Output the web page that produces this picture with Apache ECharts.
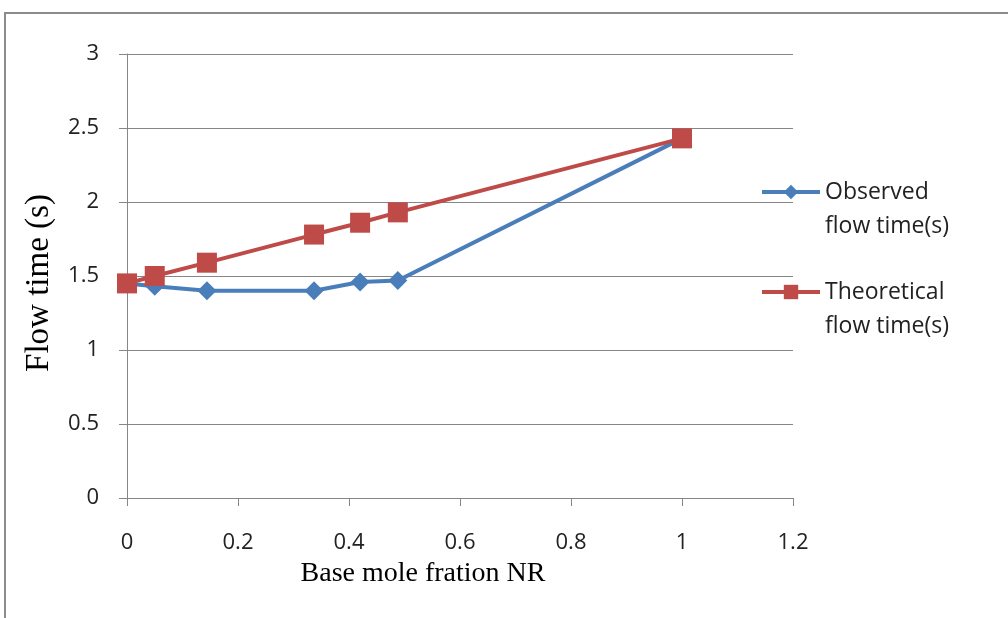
<!DOCTYPE html>
<html><head><meta charset="utf-8">
<script src="https://cdn.jsdelivr.net/npm/echarts@6/dist/echarts.min.js"></script>
<style>html,body{margin:0;padding:0;background:#fff}#c{width:1008px;height:618px}
#frame{position:absolute;left:4px;top:12px;width:1020px;height:640px;border:2px solid #8c8c8c;box-sizing:border-box;pointer-events:none}</style>
</head><body><div id="c"></div><div id="frame"></div>
<script>
const xValues = [0, 0.05, 0.144, 0.337, 0.42, 0.488, 1.0];
const observed = [1.45, 1.43, 1.40, 1.40, 1.46, 1.47, 2.43];
const theoretical = [1.45, 1.50, 1.59, 1.78, 1.86, 1.93, 2.43];
const seriesNames = ['Observed flow time(s)', 'Theoretical flow time(s)'];
const xTitle = 'Base mole fration NR';
const yTitle = 'Flow time (s)';

const chart = echarts.init(document.getElementById('c'));
const gridColor = '#868686';
chart.setOption({
  animation: false,
  grid: {left: 127, right: 215, top: 54, bottom: 120},
  legend: {
    orient: 'vertical', left: 755, top: 136, itemGap: -2,
    itemWidth: 58, itemHeight: 18,
    lineStyle: {width: 4},
    formatter: n => '\n' + n.replace(' flow', '\nflow'),
    textStyle: {fontFamily: 'Open Sans', fontSize: 23, color: '#222', lineHeight: 34}
  },
  xAxis: {
    type: 'value', min: 0, max: 1.2, interval: 0.2,
    name: xTitle, nameLocation: 'middle', nameGap: 62,
    nameTextStyle: {fontFamily: 'Liberation Serif', fontSize: 28, color: '#000', padding: [0, 74, 0, 0]},
    axisLine: {show: true, lineStyle: {color: gridColor, width: 1}},
    axisTick: {show: true, length: 8, lineStyle: {color: gridColor}},
    axisLabel: {margin: 34, fontFamily: 'Open Sans', fontSize: 22, color: '#222'},
    splitLine: {show: false}
  },
  yAxis: {
    type: 'value', min: 0, max: 3, interval: 0.5,
    name: yTitle, nameLocation: 'middle', nameGap: 71, nameRotate: 90,
    nameTextStyle: {fontFamily: 'Liberation Serif', fontSize: 33, color: '#000', padding: [0, 14, 0, 0]},
    axisLine: {show: true, lineStyle: {color: gridColor, width: 1}},
    axisTick: {show: true, length: 8, lineStyle: {color: gridColor}},
    axisLabel: {margin: 28, fontFamily: 'Open Sans', fontSize: 22, color: '#222'},
    splitLine: {show: true, lineStyle: {color: gridColor, width: 1}}
  },
  series: [
    {name: seriesNames[0], type: 'line', data: xValues.map((x, i) => [x, observed[i]]),
     symbol: 'diamond', symbolSize: 19, color: '#4a7ebb',
     lineStyle: {width: 4, color: '#4a7ebb'}, itemStyle: {color: '#4a7ebb'}},
    {name: seriesNames[1], type: 'line', data: xValues.map((x, i) => [x, theoretical[i]]),
     symbol: 'rect', symbolSize: 20, color: '#be4b48',
     lineStyle: {width: 4, color: '#be4b48'}, itemStyle: {color: '#be4b48'}}
  ]
});
</script>
</body></html>
